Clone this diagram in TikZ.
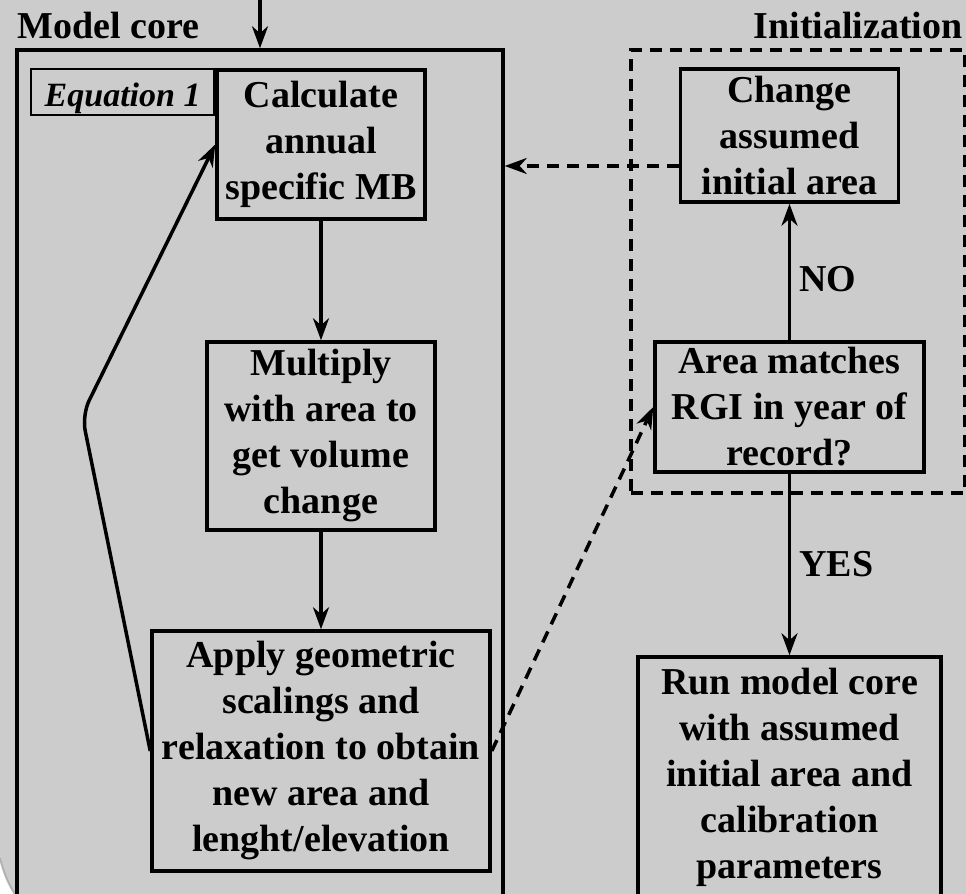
\documentclass[tikz,border=0pt]{standalone}
\usepackage{fontspec}
\setmainfont{Liberation Serif}
\usetikzlibrary{arrows.meta, positioning, calc}
\definecolor{panelgray}{RGB}{204,204,204}

\begin{document}
\begin{tikzpicture}[x=0.5pt, y=-0.5pt, >={Stealth[length=11pt, width=8pt, inset=3.5pt]}, line/.style={draw=black, line width=1.75pt}, dashline/.style={draw=black, line width=1.75pt, dash pattern=on 6pt off 4pt}]
    % Define styles for blocks and labels
    \tikzstyle{block} = [draw, rectangle, line width=1.75pt, inner sep=0pt, align=center, font=\bfseries\fontsize{19}{23}\selectfont]
    \tikzstyle{tag} = [font=\bfseries\fontsize{19}{23}\selectfont, inner sep=0pt]

    % Page and background
    \useasboundingbox (0,0) rectangle (966,894);
    \clip (0,0) rectangle (966,894);
    \fill[panelgray] (0,0) rectangle (966,894);
    \fill[white] (0,858) .. controls (4,874) and (9,885) .. (15,894) -- (0,894) -- cycle;
    \draw[gray!60, line width=1pt] (0,858) .. controls (4,874) and (9,885) .. (15,894);

    % Model core column
    \node [block, minimum width=104pt, minimum height=74.5pt] (calc) at (321,144.5) {Calculate\\annual\\specific MB};
    \node [block, minimum width=114pt, minimum height=94pt, below of=calc, node distance=145.75pt] (mult) {Multiply\\with area to\\get volume\\change};
    \node [block, minimum width=169pt, minimum height=120pt, below of=mult, node distance=157.5pt] (apply) {Apply geometric\\scalings and\\relaxation to obtain\\new area and\\lenght/elevation};
    \node [block, line width=1.1pt, minimum width=91.5pt, minimum height=23pt, anchor=north east, font=\bfseries\itshape\fontsize{17}{20}\selectfont, execute at begin node={\rule{0pt}{18pt}}] (eq) at (calc.north west) {Equation 1};

    % Initialization column
    \node [block, minimum width=134.5pt, minimum height=65pt] (area) at (789.5,407) {Area matches\\RGI in year of\\record?};
    \node [block, minimum width=109pt, minimum height=66.5pt, above of=area, node distance=135.75pt] (change) {Change\\assumed\\initial area};
    \node [block, minimum width=151.5pt, minimum height=120.5pt, below of=area, node distance=185.25pt] (run) {Run model core\\with assumed\\initial area and\\calibration\\parameters};

    % Frames round both parts
    \node [line, minimum width=243pt, minimum height=440pt, inner sep=0pt] (core) at (260,490) {};
    \node [dashline, minimum width=167pt, minimum height=221.5pt, inner sep=0pt] (init) at (798,271.5) {};
    \node [tag, anchor=base west] (corelabel) at (17,39) {Model core};
    \node [tag, anchor=base east] (initlabel) at (963,39) {Initialization};

    % Draw edges
    \coordinate (entry) at (260,0);
    \draw[line, ->] (entry) -- (core.north);
    \draw[line, ->] (calc) -- (mult);
    \draw[line, ->] (mult) -- (apply);
    \coordinate (bend) at (82,415);
    \draw[line, ->, rounded corners=8pt] (apply.west) -- (bend) -- (calc.west); % loop back for the next year
    \draw[line, ->] (area) -- node[tag, right=4pt, pos=0.45] {NO} (change);
    \draw[line, ->] (area) -- node[tag, right=4pt] {YES} (run);
    \coordinate (back) at ($(change.west)+(0,30.5)$);
    \draw[dashline, ->] (back) -- (back -| core.east);
    \draw[dashline, ->] (apply.east) -- (area.west);
\end{tikzpicture}
\end{document}
